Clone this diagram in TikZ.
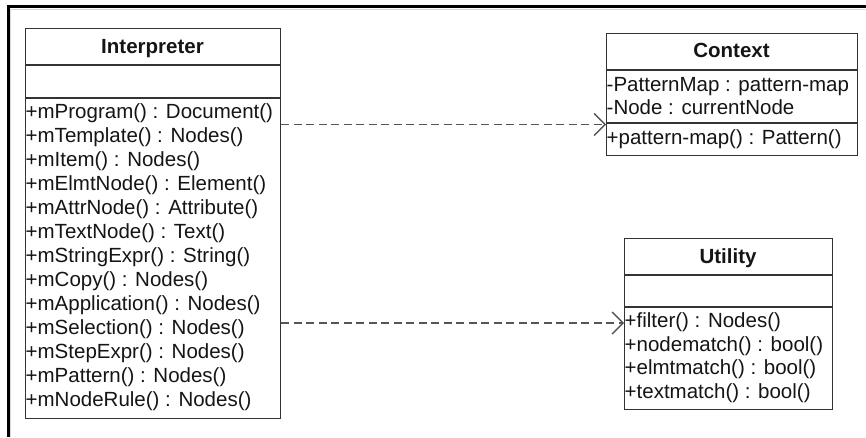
\documentclass[tikz,border=0pt]{standalone}
\usepackage{fontspec}
\setmainfont{Liberation Sans}
\usetikzlibrary{arrows.meta}
\definecolor{boxline}{HTML}{333333}
\definecolor{depline}{HTML}{555555}
\definecolor{textcol}{HTML}{151515}
\begin{document}
\begin{tikzpicture}[x=1pt,y=-1pt,
  classbox/.style={draw=boxline, line width=1.3pt, fill=white, inner sep=0pt, anchor=north west},
  sepline/.style={draw=boxline, line width=1.3pt},
  classtitle/.style={font=\fontsize{20.5}{24}\selectfont\bfseries, anchor=base, inner sep=0pt, text=textcol},
  member/.style={font=\fontsize{20.5}{24}\selectfont, anchor=base west, inner sep=0pt, text=textcol},
  dep/.style={draw=depline, line width=1.3pt, dash pattern=on 8pt off 4.5pt,
    -{Straight Barb[length=11pt,width=22pt,line width=1.3pt]}}
]
\useasboundingbox (0,0) rectangle (866,437);
\fill[white] (0,0) rectangle (866,437);

% window frame (top and left edges)
\draw[gray!30, line width=1pt] (10.5,437) -- (10.5,9.5) -- (866,9.5);
\draw[black, line width=3pt] (8,437) -- (8,6.5) -- (866,6.5);

% ---------- Interpreter ----------
\node[classbox, minimum width=255pt, minimum height=390pt] (interp) at (25,28) {};
\draw[sepline] ([yshift=-37pt]interp.north west) -- ([yshift=-37pt]interp.north east);
\draw[sepline] ([yshift=-70pt]interp.north west) -- ([yshift=-70pt]interp.north east);
\node[classtitle] (interpT) at (152.5,53.3) {Interpreter};
\foreach \t [count=\i from 0] in {
  +mProgram() : Document(),
  +mTemplate() : Nodes(),
  +mItem() : Nodes(),
  +mElmtNode() : Element(),
  +mAttrNode() : Attribute(),
  +mTextNode() : Text(),
  +mStringExpr() : String(),
  +mCopy() : Nodes(),
  +mApplication() : Nodes(),
  +mSelection() : Nodes(),
  +mStepExpr() : Nodes(),
  +mPattern() : Nodes(),
  +mNodeRule() : Nodes()}
  \node[member] (ip\i) at (25.5,118.5+24*\i) {\t};

% ---------- Context ----------
\node[classbox, minimum width=251pt, minimum height=122pt] (ctx) at (606,33) {};
\draw[sepline] ([yshift=-37pt]ctx.north west) -- ([yshift=-37pt]ctx.north east);
\draw[sepline] ([yshift=-90pt]ctx.north west) -- ([yshift=-90pt]ctx.north east);
\node[classtitle] (ctxT) at (731.5,57.5) {Context};
\node[member] (ctxA1) at (606.5,91) {-PatternMap : pattern-map};
\node[member] (ctxA2) at (606.5,114.3) {-Node : currentNode};
\node[member] (ctxM1) at (606.5,144) {+pattern-map() : Pattern()};

% ---------- Utility ----------
\node[classbox, minimum width=208pt, minimum height=171pt] (util) at (624,238) {};
\draw[sepline] ([yshift=-37pt]util.north west) -- ([yshift=-37pt]util.north east);
\draw[sepline] ([yshift=-69pt]util.north west) -- ([yshift=-69pt]util.north east);
\node[classtitle] (utilT) at (728,263) {Utility};
\foreach \t [count=\i from 0] in {
  +filter() : Nodes(),
  +nodematch() : bool(),
  +elmtmatch() : bool(),
  +textmatch() : bool()}
  \node[member] (um\i) at (624.5,327.5+23.5*\i) {\t};

% ---------- dependencies ----------
\coordinate (lnkA) at (0,124.5);
\coordinate (lnkB) at (0,323);
\draw[dep] (interp.east |- lnkA) -- (ctx.west |- lnkA);
\draw[dep] (interp.east |- lnkB) -- (util.west |- lnkB);
\end{tikzpicture}
\end{document}
